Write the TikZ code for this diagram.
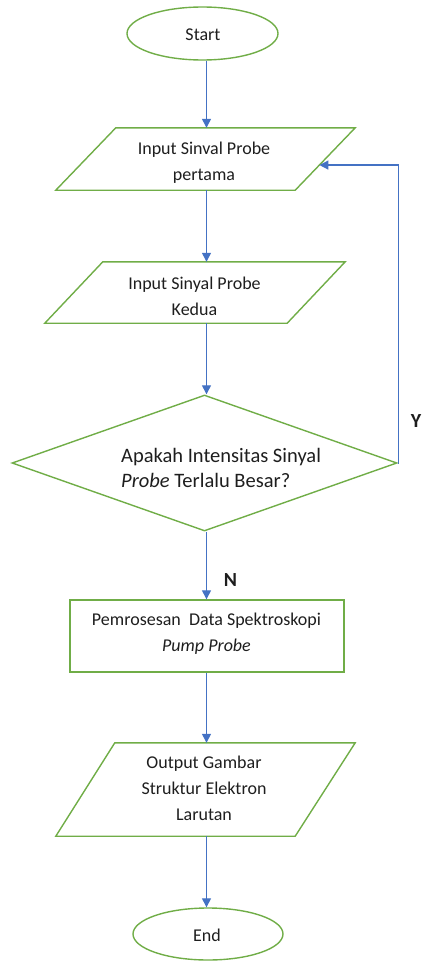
\documentclass[tikz,border=0pt]{standalone}
\usepackage{fontspec}
\setmainfont{Carlito}
\usetikzlibrary{shapes.geometric,arrows.meta,calc}
\definecolor{flowgreen}{HTML}{70AD47}
\definecolor{flowblue}{HTML}{4472C4}
\definecolor{txtcol}{HTML}{1E1E1E}
\begin{document}
\begin{tikzpicture}[x=1pt,y=-1pt,
  shapeline/.style={draw=flowgreen,line width=1.4pt},
  term/.style={shapeline,ellipse,inner sep=0pt},
  procbox/.style={shapeline,rectangle,inner sep=0pt},
  iobox/.style={rectangle,inner sep=0pt},
  decbox/.style={shapeline,diamond,inner sep=0pt},
  txt/.style={font=\fontsize{18}{26}\selectfont,align=center,text=txtcol,inner sep=0pt},
  dtxt/.style={font=\fontsize{20.5}{24.5}\selectfont,align=left,text=txtcol,inner sep=0pt},
  arr/.style={draw=flowblue,line width=1.3pt,-{Triangle[length=9pt,width=9pt]}},
  yn/.style={font=\fontsize{20}{24}\selectfont\bfseries,text=txtcol,inner sep=0pt}
]
\useasboundingbox (0,0) rectangle (421,961);
\coordinate (ax) at (206.5,0);

% Start
\node[term,minimum width=151pt,minimum height=53pt] (start) at (202.5,33.5) {};
\node[txt] (starttxt) at (203,35) {Start};

% Input 1
\node[iobox,minimum width=299pt,minimum height=62pt] (in1) at (205.5,159) {};
\draw[shapeline] ($(in1.north west)+(60,0)$) -- (in1.north east) -- ($(in1.south east)+(-60,0)$) -- (in1.south west) -- cycle;
\node[txt] (in1txt) at (204,163) {Input Sinval Probe\\pertama};
\coordinate (in1e) at ($(in1.north east)!0.597!(in1.south east)+(-35.8,0)$);

% Input 2
\node[iobox,minimum width=300pt,minimum height=61pt] (in2) at (195,292.5) {};
\draw[shapeline] ($(in2.north west)+(58,0)$) -- (in2.north east) -- ($(in2.south east)+(-58,0)$) -- (in2.south west) -- cycle;
\node[txt] (in2txt) at (194.5,296) {Input Sinyal Probe\\Kedua};

% Decision
\node[decbox,minimum width=385pt,minimum height=136pt] (dec) at (204.5,463) {};
\node[dtxt,anchor=west] (dectxt) at (121,468) {Apakah Intensitas Sinyal\\\textit{Probe} Terlalu Besar?};

% Process
\node[procbox,minimum width=274pt,minimum height=72pt] (proc) at (207,636) {};
\node[txt] (proctxt) at (206.5,634) {Pemrosesan\ \ Data Spektroskopi\\\textit{Pump Probe}};

% Output
\node[iobox,minimum width=299pt,minimum height=93pt] (out) at (205.5,789.5) {};
\draw[shapeline] ($(out.north west)+(59,0)$) -- (out.north east) -- ($(out.south east)+(-60,0)$) -- (out.south west) -- cycle;
\node[txt] (outtxt) at (204,788.5) {Output Gambar\\Struktur Elektron\\Larutan};

% End
\node[term,minimum width=150pt,minimum height=52pt] (end) at (208,934) {};
\node[txt] (endtxt) at (207,935) {End};

% Labels
\node[yn] (ylab) at (416,421) {Y};
\node[yn] (nlab) at (230.5,580) {N};

% Connectors
\draw[arr] (start.south -| ax) -- (in1.north -| ax);
\draw[arr] (in1.south -| ax) -- (in2.north -| ax);
\draw[arr] (in2.south -| ax) -- (dec.north -| ax);
\draw[arr] (dec.south -| ax) -- (proc.north -| ax);
\draw[arr] (proc.south -| ax) -- (out.north -| ax);
\draw[arr] (out.south -| ax) -- (end.north -| ax);
\draw[arr] (dec.east) -- ++(1,0) |- (in1e);
\end{tikzpicture}
\end{document}
